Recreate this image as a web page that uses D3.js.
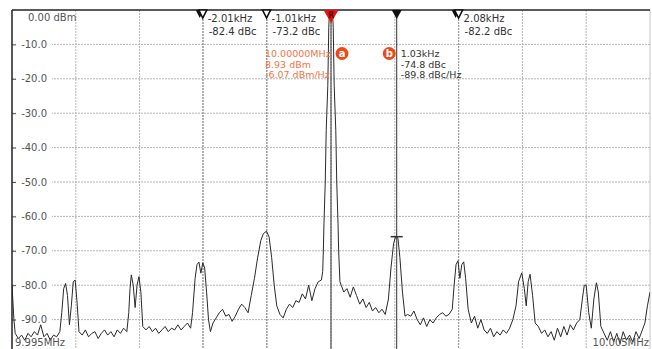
<!DOCTYPE html>
<html>
<head>
<meta charset="utf-8">
<script src="https://cdn.jsdelivr.net/npm/d3@7"></script>
<style>
  body { margin: 0; background: #fff; }
  svg text { font-family: "DejaVu Sans", sans-serif; font-size: 10px; }
</style>
</head>
<body>
<svg id="chart" width="652" height="349"></svg>
<script>
// ------------------------------------------------------------
// data (offset from 10 MHz in kHz, level in dBm)
var yTicks = [0, -10, -20, -30, -40, -50, -60, -70, -80, -90];
var yTickLabels = ["0.00", "-10.0", "-20.0", "-30.0", "-40.0", "-50.0", "-60.0", "-70.0", "-80.0", "-90.0"];
var xGrid = [-4, -3, -2, -1, 0, 1, 2, 3, 4, 5];
var startLabel = "9.995MHz", stopLabel = "10.005MHz";

var trace = [
    [-5.00, -80], [-4.97, -90], [-4.95, -94], [-4.90, -95.5], [-4.85, -94.5], [-4.80, -96], [-4.75, -94], [-4.70, -95],
    [-4.65, -93.5], [-4.60, -94.5], [-4.55, -91.5], [-4.50, -95], [-4.45, -94], [-4.40, -96], [-4.35, -94.5], [-4.30, -95], [-4.25, -93.5],
    [-4.22, -88], [-4.19, -81], [-4.16, -79.5], [-4.13, -83], [-4.10, -91.5], [-4.07, -86], [-4.04, -79], [-4.01, -78.5], [-3.98, -85], [-3.95, -93.5],
    [-3.90, -94.5], [-3.85, -93], [-3.80, -95], [-3.75, -94], [-3.70, -93.5], [-3.65, -95.5], [-3.60, -94], [-3.55, -93], [-3.50, -94.5],
    [-3.45, -93.5], [-3.40, -95], [-3.35, -93], [-3.30, -94], [-3.25, -92.5], [-3.20, -93.5],
    [-3.17, -88], [-3.15, -81], [-3.13, -77], [-3.10, -80], [-3.07, -86.5], [-3.04, -80], [-3.01, -77.5], [-2.98, -82], [-2.95, -92],
    [-2.90, -93], [-2.85, -92], [-2.80, -93.5], [-2.75, -92.5], [-2.70, -94], [-2.65, -93], [-2.60, -92], [-2.55, -93.5], [-2.50, -92.5],
    [-2.45, -93], [-2.40, -91.5], [-2.35, -93], [-2.30, -92], [-2.25, -91], [-2.20, -92.5],
    [-2.17, -88], [-2.13, -78], [-2.10, -74], [-2.07, -73.3], [-2.04, -76.5], [-2.01, -73.5], [-1.98, -75], [-1.95, -82], [-1.92, -90],
    [-1.89, -93.5], [-1.85, -91], [-1.80, -89.5], [-1.75, -88], [-1.70, -87], [-1.65, -89], [-1.60, -88.5], [-1.55, -90.5], [-1.50, -89],
    [-1.45, -87], [-1.40, -85.5], [-1.35, -86.5], [-1.30, -88],
    [-1.25, -83], [-1.20, -78], [-1.15, -72], [-1.10, -67], [-1.06, -65], [-1.01, -64.3], [-0.97, -66], [-0.93, -72], [-0.89, -80], [-0.85, -86],
    [-0.80, -88.5], [-0.75, -89.5], [-0.70, -87], [-0.65, -85.5], [-0.60, -86.5], [-0.55, -84.5], [-0.50, -85], [-0.45, -82.5], [-0.40, -84],
    [-0.35, -80], [-0.30, -84.5], [-0.25, -81], [-0.20, -79], [-0.15, -78.5],
    [-0.13, -76], [-0.12, -70], [-0.11, -62], [-0.09, -50], [-0.075, -35], [-0.05, -22], [-0.035, -5], [0, 8.93],
    [0.035, -5], [0.05, -22], [0.075, -35], [0.09, -50], [0.11, -62], [0.12, -70], [0.14, -79],
    [0.16, -80], [0.20, -82], [0.25, -81], [0.30, -83.5], [0.35, -80.5], [0.40, -83], [0.45, -85.5], [0.50, -84], [0.55, -86.5],
    [0.60, -85], [0.65, -87.5], [0.70, -86.5], [0.75, -88], [0.80, -87],
    [0.85, -88.5], [0.90, -84], [0.94, -75], [0.98, -68], [1.01, -66], [1.03, -65.9], [1.05, -66.5], [1.08, -72], [1.12, -82], [1.16, -89],
    [1.20, -88.5], [1.25, -89], [1.30, -87.5], [1.35, -90], [1.40, -91.5], [1.45, -89.5], [1.50, -92], [1.55, -90], [1.60, -91],
    [1.65, -89.5], [1.70, -88.5],
    [1.75, -88], [1.80, -89], [1.85, -88.5], [1.90, -87], [1.93, -80], [1.96, -74], [1.99, -72.9], [2.02, -78], [2.05, -74], [2.08, -73.2],
    [2.11, -78], [2.15, -87],
    [2.20, -91], [2.25, -89], [2.30, -92.5], [2.35, -90], [2.40, -93], [2.45, -94], [2.50, -92.5], [2.55, -95], [2.60, -93.5],
    [2.65, -94.5], [2.70, -93], [2.75, -94], [2.80, -92.5], [2.85, -90],
    [2.90, -86], [2.94, -79], [2.99, -76.4], [3.03, -81], [3.06, -86], [3.09, -79], [3.12, -76.8], [3.16, -83], [3.20, -91],
    [3.25, -92], [3.30, -94], [3.35, -93], [3.40, -95], [3.45, -93.5], [3.50, -96], [3.55, -92.5], [3.60, -95], [3.65, -92],
    [3.70, -94.5], [3.75, -91.5], [3.80, -93], [3.85, -91],
    [3.90, -90], [3.94, -84], [3.97, -80], [4.00, -80], [4.04, -88], [4.08, -92.5], [4.12, -84], [4.16, -79.3], [4.19, -82], [4.23, -92],
    [4.28, -94], [4.33, -96], [4.38, -93.5], [4.43, -96.5], [4.48, -94], [4.53, -97], [4.58, -93.5], [4.63, -96], [4.68, -94.5],
    [4.73, -96.5], [4.78, -93.5], [4.83, -95.5], [4.88, -93], [4.92, -91], [4.96, -86], [5.00, -82]
];

// markers: position (kHz), kind, readout lines
var markerKHz = [-2.01, -1.01, 0, 1.03, 2.0];
var markerKind = ["delta2", "delta", "ref", "normal", "delta2"];
var deltaReadouts = [
    { k: -2.01, lines: ["-2.01kHz", "-82.4 dBc"] },
    { k: -1.01, lines: ["-1.01kHz", "-73.2 dBc"] },
    { k: 2.0, lines: ["2.08kHz", "-82.2 dBc"] }
];
var markerALines = ["10.00000MHz", "8.93 dBm", "-6.07 dBm/Hz"];
var markerBLines = ["1.03kHz", "-74.8 dBc", "-89.8 dBc/Hz"];
var markerBLevel = -65.9;

// ------------------------------------------------------------
var svg = d3.select("#chart"),
    margin = { left: 12, right: 2, top: 10 },
    width = +svg.attr("width"),
    height = +svg.attr("height");

var x = d3.scaleLinear().domain([-5, 5]).range([margin.left, width - margin.right]);
var y = d3.scaleLinear().domain([0, -100]).range([margin.top, margin.top + 344]);

var orange = "#f37448", orangeDark = "#ec4a16";

svg.append("defs").append("clipPath").attr("id", "plot-clip")
    .append("rect")
    .attr("x", x(-5)).attr("y", y(0))
    .attr("width", x(5) - x(-5)).attr("height", height - y(0));

// grid
var grid = svg.append("g").attr("id", "grid");
grid.selectAll(".hgrid")
    .data(yTicks.slice(1))
    .join("line")
    .attr("class", "hgrid")
    .attr("x1", x(-5)).attr("x2", x(5))
    .attr("y1", d => y(d)).attr("y2", d => y(d))
    .attr("stroke", "#b4b4b4")
    .attr("stroke-dasharray", "2,1");
grid.selectAll(".vgrid")
    .data(xGrid)
    .join("line")
    .attr("class", "vgrid")
    .attr("x1", d => x(d)).attr("x2", d => x(d))
    .attr("y1", y(0)).attr("y2", height)
    .attr("stroke", d => d == 5 ? "#c4c4c4" : "#b4b4b4")
    .attr("stroke-dasharray", d => d == 5 ? null : "2,1");

// delta marker lines (dashed)
svg.append("g").selectAll("line")
    .data(deltaReadouts)
    .join("line")
    .attr("x1", d => x(d.k)).attr("x2", d => x(d.k))
    .attr("y1", y(0)).attr("y2", height)
    .attr("stroke", "#999")
    .attr("stroke-dasharray", "2,1");

// y labels with white back
var yl = svg.append("g").attr("id", "y-labels");
yl.selectAll("rect")
    .data(yTicks.slice(1))
    .join("rect")
    .attr("x", x(-5) + 4).attr("y", d => y(d) - 6)
    .attr("width", 36).attr("height", 12)
    .attr("fill", "#fff");
yl.selectAll(".tick")
    .data(yTicks.slice(1))
    .join("line")
    .attr("class", "tick")
    .attr("x1", x(-5)).attr("x2", x(-5) + 4)
    .attr("y1", d => y(d) + 0.5).attr("y2", d => y(d) + 0.5)
    .attr("stroke", "#555");
yl.selectAll("text")
    .data(yTicks.slice(1))
    .join("text")
    .attr("x", 47)
    .attr("y", d => y(d))
    .attr("text-anchor", "end")
    .attr("dominant-baseline", "central")
    .attr("fill", "#555")
    .text((d, i) => yTickLabels[i + 1]);
svg.append("text")
    .attr("x", 28).attr("y", y(0) + 7)
    .attr("dominant-baseline", "central")
    .attr("fill", "#555")
    .text(yTickLabels[0] + " dBm");

// solid marker lines (R and b)
svg.append("g").selectAll("line")
    .data([0, 1.03])
    .join("line")
    .attr("x1", d => x(d)).attr("x2", d => x(d))
    .attr("y1", y(0)).attr("y2", height)
    .attr("stroke", "#333")
    .attr("stroke-width", 1);

// trace
var line = d3.line().x(d => x(d[0])).y(d => y(d[1]));
svg.append("path")
    .datum(trace)
    .attr("clip-path", "url(#plot-clip)")
    .attr("d", line)
    .attr("fill", "none")
    .attr("stroke", "#2a2a2a")
    .attr("stroke-width", 1)
    .attr("stroke-linejoin", "round");

// marker b cross
svg.append("line")
    .attr("x1", x(1.03) - 6).attr("x2", x(1.03) + 6)
    .attr("y1", y(markerBLevel)).attr("y2", y(markerBLevel))
    .attr("stroke", "#333").attr("stroke-width", 1.5);

// frame
svg.append("line").attr("x1", x(-5)).attr("x2", x(5)).attr("y1", y(0)).attr("y2", y(0))
    .attr("stroke", "#222").attr("stroke-width", 1.5);
svg.append("line").attr("x1", x(-5)).attr("x2", x(-5)).attr("y1", y(0)).attr("y2", height)
    .attr("stroke", "#222").attr("stroke-width", 1.5);

// ------------------------------------------------------------
// marker triangles
var tri = (cx, w, h) => `M${cx - w / 2},${y(0)} L${cx + w / 2},${y(0)} L${cx},${y(0) + h} Z`;
var mk = svg.append("g").attr("id", "markers");
markerKHz.forEach((k, i) => {
    var cx = x(k);
    if (markerKind[i] == "ref") {
        mk.append("path").attr("d", tri(cx, 15, 13)).attr("fill", "#e8140c");
        mk.append("text").attr("x", cx).attr("y", y(0) + 5)
            .attr("text-anchor", "middle").attr("dominant-baseline", "central")
            .style("font-size", "8px").style("font-weight", "bold")
            .attr("fill", "#5a0000").text("R");
    } else if (markerKind[i] == "normal") {
        mk.append("path").attr("d", tri(cx, 10, 9)).attr("fill", "#111");
    } else {
        if (markerKind[i] == "delta2")
            mk.append("path").attr("d", tri(cx - 3, 8, 8)).attr("fill", "#111");
        mk.append("path").attr("d", tri(cx, 8, 8))
            .attr("fill", "#fff").attr("stroke", "#111").attr("stroke-width", 1.6);
    }
});

// delta readouts
var dr = svg.append("g").selectAll("g")
    .data(deltaReadouts)
    .join("g")
    .attr("transform", d => `translate(${x(d.k) + 5},0)`);
dr.selectAll("text")
    .data(d => d.lines)
    .join("text")
    .attr("x", (d, i) => i == 0 ? 0 : 1)
    .attr("y", (d, i) => 18 + i * 13)
    .attr("dominant-baseline", "central")
    .attr("fill", "#333")
    .text(d => d);

// marker a readout
svg.append("g").selectAll("text")
    .data(markerALines)
    .join("text")
    .attr("x", 265)
    .attr("y", (d, i) => 53.5 + i * 10.5)
    .attr("dominant-baseline", "central")
    .attr("fill", orange)
    .style("font-size", "9.5px")
    .text(d => d);

// marker b readout
svg.append("g").selectAll("text")
    .data(markerBLines)
    .join("text")
    .attr("x", x(1.03) + 4)
    .attr("y", (d, i) => 53.5 + i * 10.5)
    .attr("dominant-baseline", "central")
    .attr("fill", "#333")
    .style("font-size", "9.5px")
    .text(d => d);

// a / b badges
var badges = svg.append("g").selectAll("g")
    .data([{ cx: x(0) + 11, t: "a" }, { cx: x(1.03) - 7.5, t: "b" }])
    .join("g");
badges.append("circle")
    .attr("cx", d => d.cx).attr("cy", 53.5).attr("r", 6.5)
    .attr("fill", orangeDark);
badges.append("text")
    .attr("x", d => d.cx).attr("y", 53)
    .attr("text-anchor", "middle").attr("dominant-baseline", "central")
    .attr("fill", "#fff").style("font-weight", "bold").style("font-size", "10px")
    .text(d => d.t);

// start / stop labels
svg.append("text").attr("x", x(-5) + 3).attr("y", 342)
    .attr("dominant-baseline", "central").attr("fill", "#555").text(startLabel);
svg.append("text").attr("x", x(5) - 1).attr("y", 342)
    .attr("text-anchor", "end")
    .attr("dominant-baseline", "central").attr("fill", "#555").text(stopLabel);
</script>
</body>
</html>
